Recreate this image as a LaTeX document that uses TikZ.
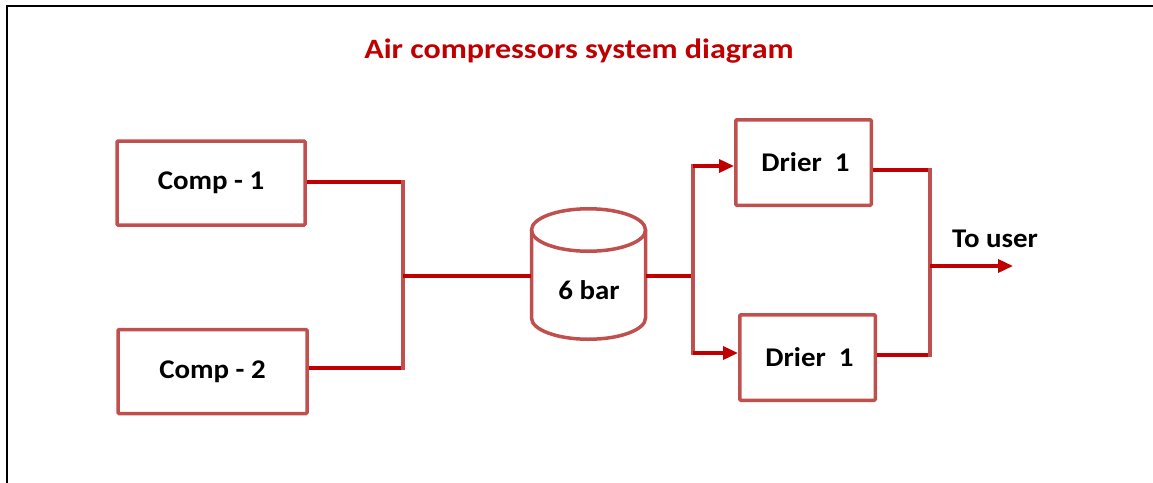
\documentclass[tikz,border=0pt]{standalone}
\usepackage{fontspec}
\setmainfont{Carlito}
\newfontfamily\titlefont{Carlito}[FakeStretch=1.145]
\newfontfamily\labelfont{Carlito}[FakeStretch=1.07]
\usetikzlibrary{arrows.meta,calc}
\definecolor{boxred}{HTML}{C0504D}
\definecolor{darkred}{HTML}{C00000}
\begin{document}
\begin{tikzpicture}[x=1pt,y=1pt,
  box/.style={draw=boxred, line width=3.5pt, rounded corners=1pt, inner sep=0pt,
    font=\labelfont\fontsize{27}{31}\selectfont\bfseries},
  boxline/.style={draw=boxred, line width=3.5pt},
  hline/.style={draw=darkred, line width=3.5pt},
  vline/.style={draw=boxred, line width=3.5pt, line cap=rect},
  arr/.style={draw=darkred, line width=3.5pt, -{Triangle[length=15pt,width=13pt]}},
  lbl/.style={inner sep=0pt, font=\labelfont\fontsize{27}{31}\selectfont\bfseries}]
\useasboundingbox (0,0) rectangle (1153,-482);
% frame
\draw[black, line width=2.5pt] (7,-490) -- (7,-6) -- (1160,-6);
% title
\node[inner sep=0pt, anchor=base, text=darkred, font=\titlefont\fontsize{28}{32}\selectfont\bfseries] (title) at (579,-58.3) {Air compressors system diagram};
% compressors
\node[box, minimum width=188pt, minimum height=84pt] (c1) at (211,-183) {Comp - 1};
\node[box, minimum width=189pt, minimum height=84pt] (c2) at (212.5,-371.5) {Comp - 2};
% tank
\node[inner sep=0pt, minimum width=114pt, minimum height=130pt] (tank) at (588.5,-276) {};
\draw[boxline] (531.5,-230) -- (531.5,-318) arc[start angle=180, end angle=360, x radius=57pt, y radius=21.25pt] -- (645.5,-230);
\draw[boxline] (588.5,-230) ellipse [x radius=57pt, y radius=21.25pt];
\node[lbl] (tanklbl) at (589,-290) {6 bar};
% driers
\node[box, minimum width=135.5pt, minimum height=85.5pt] (d1) at (803.5,-162.5) {\hspace{4pt}Drier\ \ 1};
\node[box, minimum width=135.5pt, minimum height=85.5pt] (d2) at (807.5,-357.5) {\hspace{4pt}Drier\ \ 1};
% junctions
\coordinate (j1) at (403,-182);
\coordinate (j2) at (403,-368);
\coordinate (j3) at (403,-276);
\coordinate (j5) at (693,-166);
\coordinate (j6) at (693,-353);
\coordinate (j7) at (930,-170);
\coordinate (j8) at (930,-355);
\coordinate (j9) at (930,-266);
\coordinate (out) at (1013,-266);
% connectors
\draw[hline] (c1.east |- j1) -- (j1);
\draw[hline] (j2 -| c2.east) -- (j2);
\draw[vline] (j1) -- (j2);
\draw[hline] (j3) -- (tank.west);
\draw[hline] (tank.east) -- (tank.east -| j5);
\draw[vline] (j5) -- (j6);
\draw[arr] (j5) -- (d1.west |- j5);
\draw[arr] (j6) -- (d2.west |- j6);
\draw[hline] (d1.east |- j7) -- (j7);
\draw[hline] (d2.east |- j8) -- (j8);
\draw[vline] (j7) -- (j8);
\draw[arr] (j9) -- (out);
\node[lbl, anchor=base west] (user) at (952,-247.7) {To user};
\end{tikzpicture}
\end{document}
